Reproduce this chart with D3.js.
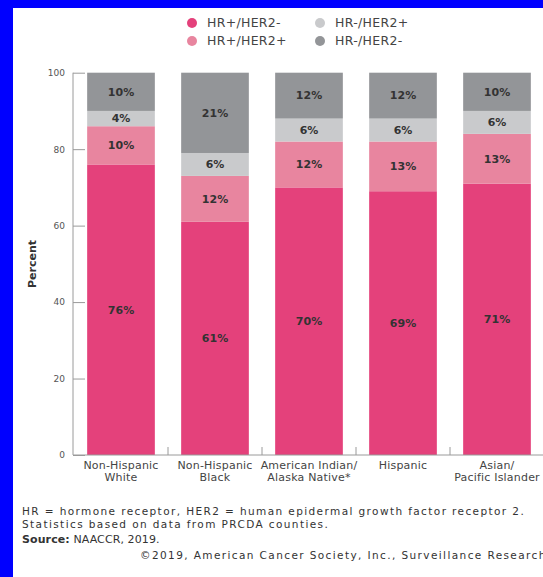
<!DOCTYPE html>
<html>
<head>
<meta charset="utf-8">
<script src="https://cdn.jsdelivr.net/npm/d3@7"></script>
<style>
  html, body { margin: 0; padding: 0; background: #fff; }
  svg { display: block; font-family: "DejaVu Sans", sans-serif; }
</style>
</head>
<body>
<svg id="chart" width="543" height="577"></svg>
<script>
// Breast cancer subtype distribution by race/ethnicity (percent)
const categories = [
  ["Non-Hispanic", "White"],
  ["Non-Hispanic", "Black"],
  ["American Indian/", "Alaska Native*"],
  ["Hispanic"],
  ["Asian/", "Pacific Islander"]
];
const subtypes = ["HR+/HER2-", "HR+/HER2+", "HR-/HER2+", "HR-/HER2-"];
const hrPosHer2Neg = [76, 61, 70, 69, 71];
const hrPosHer2Pos = [10, 12, 12, 13, 13];
const hrNegHer2Pos = [4, 6, 6, 6, 6];
const hrNegHer2Neg = [10, 21, 12, 12, 10];
const yTicks = [0, 20, 40, 60, 80, 100];
const colors = ["#e4417b", "#e8859f", "#c9cacc", "#939598"];

const footnotes = [
  "HR = hormone receptor, HER2 = human epidermal growth factor receptor 2.",
  "Statistics based on data from PRCDA counties."
];
const sourceLabel = "Source:";
const sourceText = " NAACCR, 2019.";
const copyright = "\u00A92019, American Cancer Society, Inc., Surveillance Research";

const svg = d3.select("#chart");

// blue frame along top and left edges
svg.append("rect").attr("x", 0).attr("y", 0).attr("width", 543).attr("height", 8).attr("fill", "#0000ff");
svg.append("rect").attr("x", 0).attr("y", 0).attr("width", 13).attr("height", 577).attr("fill", "#0000ff");

const series = [hrPosHer2Neg, hrPosHer2Pos, hrNegHer2Pos, hrNegHer2Neg];
const rows = categories.map((c, i) => {
  const r = { key: i };
  subtypes.forEach((s, j) => r[s] = series[j][i]);
  return r;
});
const stacked = d3.stack().keys(subtypes)(rows);

const x = d3.scaleBand().domain(d3.range(categories.length)).range([74, 544]).paddingInner(0.28).paddingOuter(0.14);
const y = d3.scaleLinear().domain([0, 100]).range([455, 72.7]);
const color = d3.scaleOrdinal().domain(subtypes).range(colors);

// bars
const layer = svg.append("g").selectAll("g").data(stacked).join("g").attr("fill", d => color(d.key));
layer.selectAll("rect").data(d => d).join("rect")
  .attr("x", d => x(d.data.key))
  .attr("width", x.bandwidth())
  .attr("y", d => y(d[1]))
  .attr("height", d => y(d[0]) - y(d[1]));

// segment value labels
const lbl = svg.append("g").selectAll("g").data(stacked).join("g");
lbl.selectAll("text").data(d => d.map(v => ({ v, key: d.key }))).join("text")
  .attr("x", d => x(d.v.data.key) + x.bandwidth() / 2)
  .attr("y", d => (y(d.v[0]) + y(d.v[1])) / 2)
  .attr("dy", "0.35em")
  .attr("text-anchor", "middle")
  .attr("font-size", 11)
  .attr("font-weight", "bold")
  .attr("fill", "#333")
  .text(d => (d.v[1] - d.v[0]) + "%");

// y axis
const yAxis = svg.append("g").attr("transform", "translate(73,0)")
  .call(d3.axisLeft(y).tickValues(yTicks).tickSize(-12).tickPadding(8));
yAxis.select(".domain").attr("stroke", "#9a9a9a").attr("d", `M0,${y(100)}V${y(0)}`);
yAxis.selectAll(".tick line").attr("stroke", "#9a9a9a");
yAxis.selectAll(".tick text").attr("font-size", 9).attr("fill", "#555").attr("font-family", "DejaVu Sans");

// x axis with ticks at band boundaries
const xAxisG = svg.append("g");
xAxisG.append("line").attr("x1", 73).attr("x2", 543).attr("y1", y(0)).attr("y2", y(0)).attr("stroke", "#9a9a9a");
xAxisG.selectAll("line.bt").data(d3.range(1, categories.length + 1)).join("line")
  .attr("class", "bt")
  .attr("x1", i => x(i - 1) + x.step() - x.step() * x.paddingInner() / 2)
  .attr("x2", i => x(i - 1) + x.step() - x.step() * x.paddingInner() / 2)
  .attr("y1", y(0)).attr("y2", y(0) - 8)
  .attr("stroke", "#9a9a9a");

const catText = svg.append("g").selectAll("text").data(categories).join("text")
  .attr("x", (d, i) => x(i) + x.bandwidth() / 2)
  .attr("y", 469)
  .attr("text-anchor", "middle")
  .attr("font-size", 11)
  .attr("letter-spacing", 0.2)
  .attr("fill", "#444");
catText.selectAll("tspan").data(d => d).join("tspan")
  .attr("x", function () { return this.parentNode.getAttribute("x"); })
  .attr("dy", (d, i) => i === 0 ? 0 : 12)
  .text(d => d);

// y axis title
svg.append("text")
  .attr("transform", "translate(36,264) rotate(-90)")
  .attr("text-anchor", "middle")
  .attr("font-size", 11)
  .attr("font-weight", "bold")
  .attr("fill", "#333")
  .text("Percent");

// legend: two columns, two rows
const legend = svg.append("g").selectAll("g").data(subtypes).join("g")
  .attr("transform", (d, i) => `translate(${i < 2 ? 192 : 320},${i % 2 === 0 ? 23 : 41})`);
legend.append("circle").attr("r", 5).attr("fill", d => color(d));
legend.append("text").attr("x", 15).attr("dy", "0.35em")
  .attr("font-size", 12.5).attr("letter-spacing", 0.3).attr("fill", "#444").text(d => d);

// notes
const notes = svg.append("g").attr("fill", "#333");
notes.selectAll("text.fn").data(footnotes).join("text")
  .attr("class", "fn")
  .attr("x", 22).attr("y", (d, i) => 515 + i * 12.5)
  .attr("font-size", 10.5).attr("letter-spacing", 1.4)
  .text(d => d);
const src = notes.append("text").attr("x", 22).attr("y", 543).attr("font-size", 11).attr("letter-spacing", 0.1);
src.append("tspan").attr("font-weight", "bold").text(sourceLabel);
src.append("tspan").text(sourceText);
notes.append("text").attr("x", 140).attr("y", 559)
  .attr("font-size", 10.5).attr("letter-spacing", 1.4).text(copyright);
</script>
</body>
</html>
